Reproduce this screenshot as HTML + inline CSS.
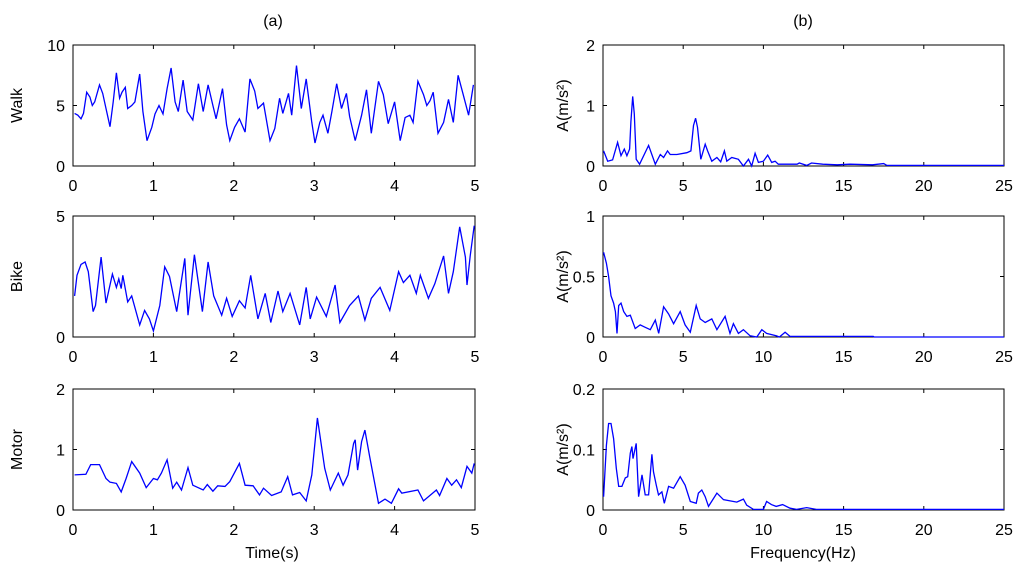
<!DOCTYPE html>
<html><head><meta charset="utf-8"><style>
body{margin:0;background:#fff}
svg{display:block;font-family:"Liberation Sans",sans-serif}
</style></head><body>
<svg id="fig" width="1024" height="581" viewBox="0 0 1024 581"></svg>
<script>
// ---- data ----
const walkT=[0.02,0.06,0.10,0.13,0.17,0.21,0.24,0.27,0.33,0.37,0.41,0.46,0.50,0.54,0.58,0.61,0.65,0.68,0.73,0.77,0.83,0.87,0.92,0.98,1.02,1.07,1.12,1.17,1.22,1.27,1.31,1.37,1.42,1.49,1.56,1.62,1.68,1.74,1.78,1.86,1.91,1.95,2.01,2.07,2.14,2.20,2.26,2.30,2.37,2.45,2.51,2.57,2.61,2.68,2.72,2.78,2.84,2.90,2.97,3.01,3.07,3.11,3.17,3.22,3.28,3.34,3.40,3.44,3.51,3.59,3.65,3.71,3.80,3.86,3.92,4.00,4.07,4.13,4.19,4.23,4.29,4.36,4.40,4.44,4.48,4.54,4.61,4.67,4.73,4.79,4.85,4.92,4.98];
const walkV=[4.35,4.2,3.9,4.35,6.1,5.7,5.0,5.3,6.7,6.0,4.75,3.25,5.3,7.7,5.6,6.1,6.5,4.75,5.0,5.3,7.6,4.5,2.1,3.2,4.3,5.0,4.3,6.4,8.1,5.3,4.5,7.1,4.5,3.8,6.8,4.5,6.7,5.0,3.9,6.4,3.4,2.1,3.2,3.9,2.8,7.2,6.2,4.75,5.2,2.1,3.1,5.6,4.35,6.0,4.2,8.3,4.75,7.2,3.6,1.9,3.6,4.2,2.7,4.5,6.8,4.75,6.0,4.1,2.1,4.2,6.3,2.7,7.0,5.9,3.5,5.3,2.1,4.0,4.2,3.6,7.0,5.9,5.0,5.4,6.1,2.7,3.6,5.5,3.6,7.5,6.0,4.2,6.7];
const bikeT=[0.02,0.05,0.10,0.15,0.19,0.25,0.28,0.35,0.41,0.49,0.54,0.57,0.60,0.62,0.68,0.73,0.83,0.89,0.95,1.00,1.08,1.14,1.20,1.29,1.39,1.43,1.51,1.61,1.68,1.75,1.85,1.91,1.98,2.07,2.14,2.21,2.30,2.39,2.46,2.55,2.61,2.70,2.82,2.90,2.95,3.03,3.15,3.26,3.32,3.44,3.55,3.63,3.71,3.82,3.94,4.05,4.11,4.19,4.27,4.32,4.42,4.50,4.61,4.67,4.73,4.81,4.88,4.90,4.94,4.99];
const bikeV=[1.7,2.55,3.0,3.1,2.7,1.05,1.3,3.3,1.4,2.6,2.05,2.4,2.0,2.55,1.45,1.7,0.5,1.1,0.75,0.25,1.3,2.9,2.5,1.05,3.25,0.9,3.4,1.05,3.1,1.7,0.9,1.6,0.85,1.5,1.2,2.55,0.75,1.8,0.6,1.9,1.05,1.8,0.5,2.05,0.75,1.65,0.85,2.15,0.6,1.3,1.7,0.7,1.6,2.05,1.1,2.7,2.25,2.55,1.8,2.55,1.6,2.2,3.35,1.8,2.7,4.55,3.3,2.15,3.35,4.6];
const motorT=[0.02,0.16,0.22,0.33,0.41,0.46,0.54,0.60,0.66,0.73,0.83,0.91,1.00,1.05,1.10,1.17,1.24,1.29,1.35,1.43,1.49,1.62,1.67,1.74,1.80,1.89,1.95,2.07,2.14,2.24,2.32,2.37,2.47,2.59,2.67,2.73,2.82,2.90,2.97,3.04,3.13,3.20,3.30,3.36,3.42,3.49,3.51,3.54,3.59,3.63,3.69,3.80,3.88,3.96,4.05,4.09,4.29,4.36,4.52,4.56,4.65,4.71,4.77,4.83,4.90,4.96,4.99];
const motorV=[0.58,0.59,0.75,0.75,0.52,0.46,0.44,0.30,0.52,0.80,0.61,0.37,0.52,0.50,0.61,0.83,0.36,0.46,0.33,0.70,0.41,0.33,0.42,0.31,0.40,0.39,0.47,0.77,0.41,0.40,0.25,0.36,0.24,0.30,0.55,0.25,0.29,0.15,0.58,1.52,0.69,0.33,0.61,0.41,0.58,1.10,1.16,0.66,1.13,1.32,0.88,0.11,0.18,0.11,0.35,0.28,0.33,0.15,0.33,0.24,0.52,0.41,0.50,0.37,0.72,0.61,0.77];
const walkF=[0.04,0.29,0.60,0.91,1.12,1.33,1.49,1.66,1.74,1.85,1.95,2.07,2.28,2.84,3.26,3.57,3.78,4.02,4.19,4.61,5.23,5.48,5.64,5.77,5.89,6.10,6.37,6.52,6.78,7.10,7.34,7.57,7.72,8.03,8.44,8.75,9.07,9.27,9.48,9.69,10.00,10.27,10.52,10.73,10.93,12.1,12.24,12.7,13.0,13.7,14.6,15.4,16.8,17.5,17.7,25];
const walkA=[0.25,0.08,0.1,0.39,0.17,0.28,0.17,0.28,0.73,1.15,0.86,0.11,0.03,0.34,0.03,0.19,0.14,0.25,0.19,0.19,0.22,0.25,0.67,0.79,0.64,0.11,0.36,0.25,0.08,0.14,0.07,0.25,0.08,0.14,0.11,0.0,0.11,0.0,0.21,0.06,0.08,0.18,0.06,0.08,0.03,0.03,0.05,0.01,0.05,0.03,0.02,0.03,0.02,0.04,0.01,0.01];
const bikeF=[0.04,0.21,0.35,0.50,0.66,0.77,0.87,0.98,1.12,1.29,1.49,1.70,2.01,2.32,2.63,2.95,3.26,3.47,3.78,4.09,4.40,4.81,5.12,5.44,5.81,6.06,6.37,6.78,7.10,7.61,7.92,8.13,8.44,8.75,9.17,9.59,9.9,10.2,10.8,11.0,11.35,11.66,16.85,16.9,25];
const bikeA=[0.70,0.61,0.50,0.34,0.28,0.21,0.03,0.26,0.28,0.21,0.17,0.18,0.07,0.10,0.08,0.06,0.14,0.03,0.25,0.19,0.11,0.21,0.10,0.04,0.26,0.15,0.12,0.15,0.06,0.17,0.03,0.11,0.03,0.06,0.01,0.0,0.06,0.03,0.01,0.0,0.04,0.005,0.005,0.0,0.0];
const motorF=[0.04,0.21,0.35,0.50,0.66,0.83,0.98,1.18,1.39,1.54,1.70,1.80,1.87,2.07,2.22,2.43,2.63,2.84,3.05,3.15,3.32,3.46,3.67,3.82,4.09,4.40,4.81,5.12,5.44,5.81,5.95,6.16,6.37,6.58,7.10,7.51,8.34,8.75,8.96,9.38,10.0,10.2,10.5,10.8,11.2,11.66,12.07,12.7,13.3,25];
const motorA=[0.022,0.107,0.143,0.143,0.118,0.069,0.039,0.039,0.053,0.055,0.094,0.105,0.085,0.110,0.022,0.058,0.025,0.025,0.092,0.063,0.041,0.025,0.030,0.011,0.039,0.036,0.055,0.041,0.014,0.011,0.028,0.033,0.022,0.006,0.028,0.017,0.013,0.018,0.008,0.001,0.001,0.014,0.009,0.006,0.009,0.003,0.001,0.004,0.001,0.001];
const timeTicks=[0,1,2,3,4,5];
const freqTicks=[0,5,10,15,20,25];
const walkTicks=[0,5,10], bikeTicks=[0,5], motorTicks=[0,1,2];
const walkAT=[0,1,2], bikeAT=[0,0.5,1], motorAT=[0,0.1,0.2];

const NS="http://www.w3.org/2000/svg";
const svg=document.getElementById('fig');
function mk(tag,attrs,parent){const e=document.createElementNS(NS,tag);for(const k in attrs)e.setAttribute(k,attrs[k]);(parent||svg).appendChild(e);return e;}

function panel(name,x0,x1,y0,y1,xmax,ymax,xt,yt,xs,ys,ylabel){
  const g=mk('g',{});
  
  
  const sx=v=>x0+(v/xmax)*(x1-x0), sy=v=>y1-(v/ymax)*(y1-y0);
  const box=mk('rect',{x:x0,y:y0,width:x1-x0,height:y1-y0,fill:'#fff',stroke:'#000','stroke-width':1},g);
  
  
  xt.forEach(t=>{const X=sx(t);
    mk('line',{x1:X,x2:X,y1:y1,y2:y1-4,stroke:'#000'},g);
    mk('line',{x1:X,x2:X,y1:y0,y2:y0+4,stroke:'#000'},g);
    const tx=mk('text',{x:X,y:y1+25,'font-size':16,'text-anchor':'middle'},g);tx.textContent=t;
    
    
  });
  yt.forEach(t=>{const Y=sy(t);
    mk('line',{x1:x0,x2:x0+4,y1:Y,y2:Y,stroke:'#000'},g);
    mk('line',{x1:x1,x2:x1-4,y1:Y,y2:Y,stroke:'#000'},g);
    const tx=mk('text',{x:x0-8,y:Y+6,'font-size':16,'text-anchor':'end'},g);tx.textContent=t;
    
    
  });
  const pts=xs.map((v,i)=>sx(v).toFixed(1)+','+sy(ys[i]).toFixed(1)).join(' ');
  const pl=mk('polyline',{points:pts,fill:'none',stroke:'#0000ff','stroke-width':1.3},g);
  
  
  const lx=x0<300?22:568, cy=(y0+y1)/2;
  const yl=mk('text',{x:lx,y:cy,'font-size':16,'text-anchor':'middle',transform:`rotate(-90 ${lx} ${cy})`},g);
  yl.textContent=ylabel;
  
  
}
const L=[73,475],R=[603,1004],rows=[[45,166],[216,337],[389,510]];
panel('walk-time',L[0],L[1],rows[0][0],rows[0][1],5,10,timeTicks,walkTicks,walkT,walkV,'Walk');
panel('bike-time',L[0],L[1],rows[1][0],rows[1][1],5,5,timeTicks,bikeTicks,bikeT,bikeV,'Bike');
panel('motor-time',L[0],L[1],rows[2][0],rows[2][1],5,2,timeTicks,motorTicks,motorT,motorV,'Motor');
panel('walk-freq',R[0],R[1],rows[0][0],rows[0][1],25,2,freqTicks,walkAT,walkF,walkA,'A(m/s²)');
panel('bike-freq',R[0],R[1],rows[1][0],rows[1][1],25,1,freqTicks,bikeAT,bikeF,bikeA,'A(m/s²)');
panel('motor-freq',R[0],R[1],rows[2][0],rows[2][1],25,0.2,freqTicks,motorAT,motorF,motorA,'A(m/s²)');
function lab(txt,x,y,name){const t=mk('text',{x:x,y:y,'font-size':16,'text-anchor':'middle'});t.textContent=txt;
  
  }
lab('(a)',273,26,'title-a');
lab('(b)',803,26,'title-b');
lab('Time(s)',272,558,'x-axis-title-time');
lab('Frequency(Hz)',803,558,'x-axis-title-frequency');
</script>
</body></html>
